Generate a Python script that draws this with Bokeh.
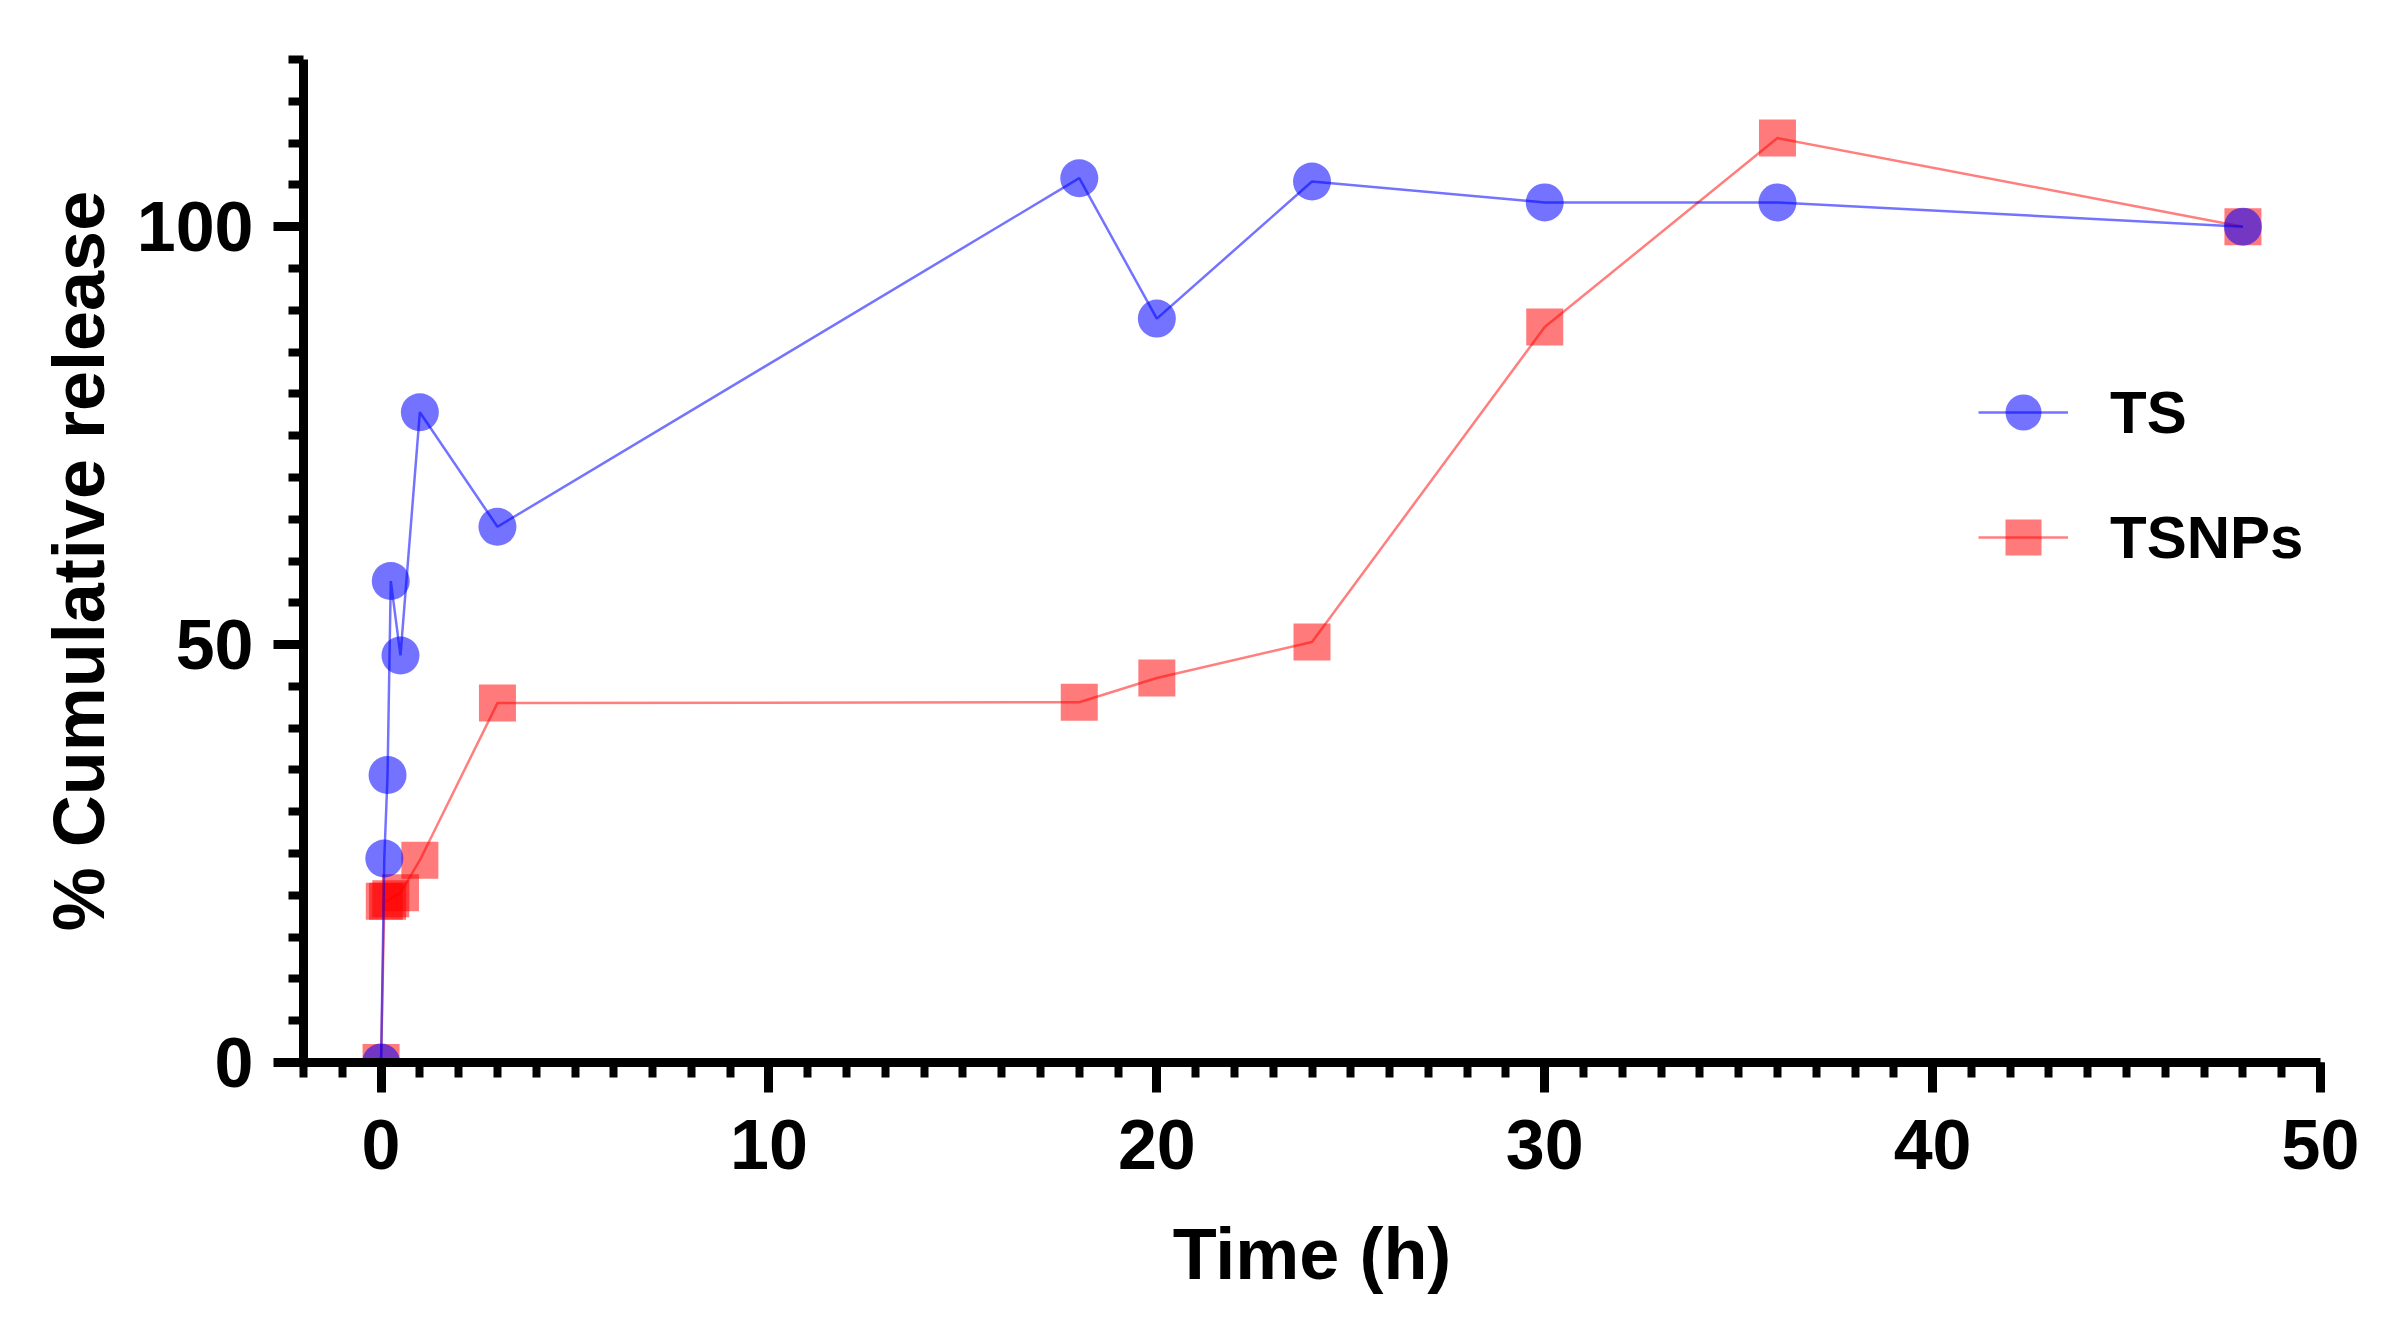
from bokeh.plotting import figure
from bokeh.models import SingleIntervalTicker, Range1d, Legend, LegendItem, ColumnDataSource
from bokeh.embed import file_html
from bokeh.resources import INLINE

# ---- data ----
ts_time = [0, 0.083, 0.167, 0.25, 0.5, 1, 3, 18, 20, 24, 30, 36, 48]
ts_release = [0, 24.4, 34.4, 57.6, 48.7, 77.8, 64.1, 105.8, 89.0, 105.4, 102.9, 102.9, 100.0]

tsnp_time = [0, 0.083, 0.167, 0.25, 0.5, 1, 3, 18, 20, 24, 30, 36, 48]
tsnp_release = [0, 19.3, 19.3, 19.6, 20.3, 24.2, 43.0, 43.1, 46.0, 50.3, 88.0, 110.6, 100.0]

series_names = ["TS", "TSNPs"]

FONT = "Liberation Sans"

p = figure(width=2388, height=1320, output_backend="svg", toolbar_location=None,
           x_range=Range1d(-2, 50), y_range=Range1d(0, 120),
           min_border_left=303, min_border_right=68, min_border_top=59, min_border_bottom=258)
p.outline_line_color = None
p.xgrid.visible = False
p.ygrid.visible = False
p.background_fill_color = "white"
p.border_fill_color = "white"

src_ts = ColumnDataSource(dict(x=ts_time, y=ts_release))
src_np = ColumnDataSource(dict(x=tsnp_time, y=tsnp_release))

r_np_m = p.scatter("x", "y", source=src_np, marker="square", size=37,
                   fill_color="#ff0000", fill_alpha=0.52, line_color=None)
r_np_l = p.line("x", "y", source=src_np, line_color="#ff0000", line_alpha=0.5, line_width=2.5)
r_ts_m = p.scatter("x", "y", source=src_ts, marker="circle", size=38,
                   fill_color="#0000ff", fill_alpha=0.55, line_color=None)
r_ts_l = p.line("x", "y", source=src_ts, line_color="#0000ff", line_alpha=0.55, line_width=2.5)

for ax in (p.xaxis[0], p.yaxis[0]):
    ax.axis_line_width = 9
    ax.axis_line_color = "black"
    ax.major_tick_line_width = 9
    ax.minor_tick_line_width = 8
    ax.major_tick_out = 30
    ax.major_tick_in = 0
    ax.minor_tick_out = 15
    ax.minor_tick_in = 0
    ax.major_label_text_font = FONT
    ax.major_label_text_font_style = "bold"
    ax.major_label_text_font_size = "70px"
    ax.major_label_text_color = "black"
    ax.axis_label_text_font = FONT
    ax.axis_label_text_font_style = "bold"
    ax.axis_label_text_font_size = "72px"
    ax.axis_label_text_color = "black"

p.xaxis[0].ticker = SingleIntervalTicker(interval=10, num_minor_ticks=10)
p.yaxis[0].ticker = SingleIntervalTicker(interval=50, num_minor_ticks=10)
p.xaxis[0].axis_label = "Time (h)"
p.yaxis[0].axis_label = "% Cumulative release"
p.xaxis[0].major_label_standoff = 27
p.yaxis[0].major_label_standoff = 20
p.xaxis[0].axis_label_standoff = 42
p.yaxis[0].axis_label_standoff = 15

legend = Legend(items=[LegendItem(label=series_names[0], renderers=[r_ts_m, r_ts_l]),
                       LegendItem(label=series_names[1], renderers=[r_np_m, r_np_l])],
                location=(1675, 480))
legend.glyph_width = 90
legend.glyph_height = 90
legend.label_height = 90
legend.spacing = 35
legend.label_standoff = 42
legend.padding = 0
legend.margin = 0
legend.border_line_color = None
legend.background_fill_alpha = 0
legend.label_text_font = FONT
legend.label_text_font_style = "bold"
legend.label_text_font_size = "60px"
legend.label_text_color = "black"
p.add_layout(legend, "center")

open("out.html", "w").write(file_html(p, INLINE))
